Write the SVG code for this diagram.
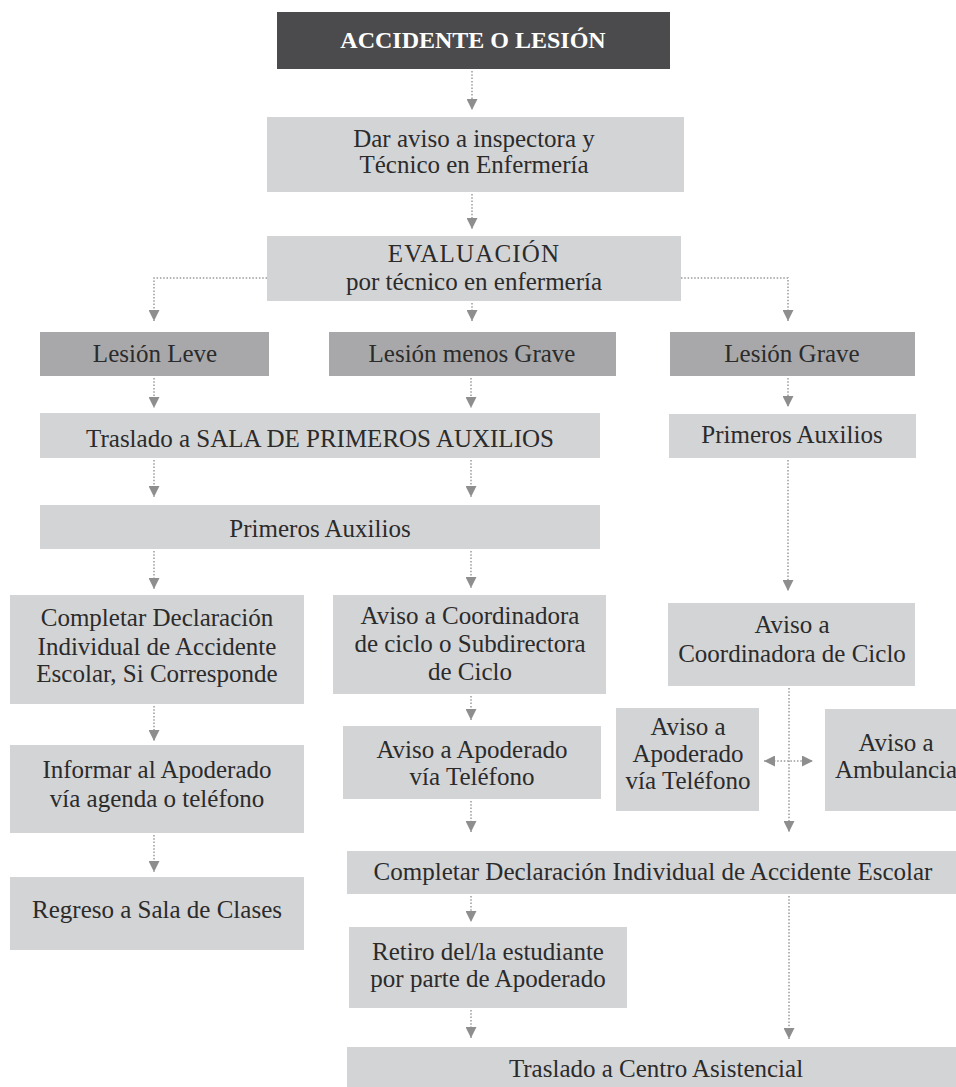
<svg xmlns="http://www.w3.org/2000/svg" width="956" height="1087" viewBox="0 0 956 1087">
<style>
.l{fill:#d3d4d6}
.m{fill:#a8a8aa}
.d{fill:#4b4b4d}
text{font-family:"Liberation Serif","Times New Roman",serif;font-size:25px;fill:#2b2b2b;text-anchor:middle}
.w{fill:#ffffff;font-weight:bold;font-size:24px}
.sp{letter-spacing:1.2px}
.c{fill:none;stroke:#9a9a9a;stroke-width:1.5;stroke-dasharray:1.5 1.8}
</style>
<defs>
<marker id="ah" viewBox="0 0 11 11" refX="11" refY="5.5" markerWidth="11" markerHeight="11" orient="auto" markerUnits="userSpaceOnUse">
<path d="M0,0 L11,5.5 L0,11 z" fill="#8e8e8e"/>
</marker>
<marker id="as" viewBox="0 0 11 11" refX="0" refY="5.5" markerWidth="11" markerHeight="11" orient="auto" markerUnits="userSpaceOnUse">
<path d="M11,0 L0,5.5 L11,11 z" fill="#8e8e8e"/>
</marker>
</defs>
<g id="connectors">
<path class="c" d="M472,71 V110" marker-end="url(#ah)"/>
<path class="c" d="M472,194 V229" marker-end="url(#ah)"/>
<path class="c" d="M472,303 V321" marker-end="url(#ah)"/>
<path class="c" d="M267,278 H154 V321" marker-end="url(#ah)"/>
<path class="c" d="M681,278 H788 V321" marker-end="url(#ah)"/>
<path class="c" d="M154,378 V408" marker-end="url(#ah)"/>
<path class="c" d="M471,378 V408" marker-end="url(#ah)"/>
<path class="c" d="M788,378 V407" marker-end="url(#ah)"/>
<path class="c" d="M154,460 V497" marker-end="url(#ah)"/>
<path class="c" d="M471,460 V497" marker-end="url(#ah)"/>
<path class="c" d="M154,551 V589" marker-end="url(#ah)"/>
<path class="c" d="M471,551 V588" marker-end="url(#ah)"/>
<path class="c" d="M788,460 V591" marker-end="url(#ah)"/>
<path class="c" d="M154,706 V741" marker-end="url(#ah)"/>
<path class="c" d="M154,835 V872" marker-end="url(#ah)"/>
<path class="c" d="M471,696 V720" marker-end="url(#ah)"/>
<path class="c" d="M471,801 V832" marker-end="url(#ah)"/>
<path class="c" d="M789,688 V832" marker-end="url(#ah)"/>
<path class="c" d="M764,761 H813" marker-start="url(#as)" marker-end="url(#ah)"/>
<path class="c" d="M471,896 V922" marker-end="url(#ah)"/>
<path class="c" d="M471,1010 V1038" marker-end="url(#ah)"/>
<path class="c" d="M789,896 V1039" marker-end="url(#ah)"/>
</g>
<g id="n1"><rect class="d" x="277" y="12" width="393" height="57"/><text class="w" x="473" y="48">ACCIDENTE O LESIÓN</text></g>
<g id="n2"><rect class="l" x="267" y="117" width="417" height="75"/><text x="474" y="147">Dar aviso a inspectora y</text><text x="474" y="173">Técnico en Enfermería</text></g>
<g id="n3"><rect class="l" x="267" y="236" width="414" height="65"/><text class="sp" x="474" y="262">EVALUACIÓN</text><text x="474" y="290">por técnico en enfermería</text></g>
<g id="n4"><rect class="m" x="40" y="332" width="229" height="44"/><text x="155" y="362">Lesión Leve</text></g>
<g id="n5"><rect class="m" x="329" y="332" width="287" height="44"/><text x="472" y="362">Lesión menos Grave</text></g>
<g id="n6"><rect class="m" x="670" y="332" width="245" height="44"/><text x="792" y="362">Lesión Grave</text></g>
<g id="n7"><rect class="l" x="40" y="413" width="560" height="45"/><text x="320" y="447">Traslado a SALA DE PRIMEROS AUXILIOS</text></g>
<g id="n8"><rect class="l" x="669" y="414" width="247" height="44"/><text x="792" y="443">Primeros Auxilios</text></g>
<g id="n9"><rect class="l" x="40" y="505" width="560" height="44"/><text x="320" y="537">Primeros Auxilios</text></g>
<g id="n10"><rect class="l" x="10" y="595" width="294" height="109"/><text x="157" y="626">Completar Declaración</text><text x="157" y="655">Individual de Accidente</text><text x="157" y="682">Escolar, Si Corresponde</text></g>
<g id="n11"><rect class="l" x="333" y="595" width="273" height="99"/><text x="470" y="624">Aviso a Coordinadora</text><text x="470" y="652">de ciclo o Subdirectora</text><text x="470" y="680">de Ciclo</text></g>
<g id="n12"><rect class="l" x="668" y="603" width="247" height="83"/><text x="792" y="633">Aviso a</text><text x="792" y="662">Coordinadora de Ciclo</text></g>
<g id="n13"><rect class="l" x="10" y="745" width="294" height="88"/><text x="157" y="778">Informar al Apoderado</text><text x="157" y="807">vía agenda o teléfono</text></g>
<g id="n14"><rect class="l" x="343" y="726" width="258" height="73"/><text x="472" y="758">Aviso a Apoderado</text><text x="472" y="785">vía Teléfono</text></g>
<g id="n15"><rect class="l" x="616" y="708" width="143" height="103"/><text x="688" y="735">Aviso a</text><text x="688" y="762">Apoderado</text><text x="688" y="789">vía Teléfono</text></g>
<g id="n16"><rect class="l" x="825" y="709" width="145" height="102"/><text x="896" y="751">Aviso a</text><text x="896" y="778">Ambulancia</text></g>
<g id="n17"><rect class="l" x="10" y="877" width="294" height="73"/><text x="157" y="918">Regreso a Sala de Clases</text></g>
<g id="n18"><rect class="l" x="347" y="851" width="612" height="43"/><text x="653" y="880">Completar Declaración Individual de Accidente Escolar</text></g>
<g id="n19"><rect class="l" x="349" y="927" width="278" height="81"/><text x="488" y="960">Retiro del/la estudiante</text><text x="488" y="987">por parte de Apoderado</text></g>
<g id="n20"><rect class="l" x="347" y="1047" width="618" height="45"/><text x="656" y="1077">Traslado a Centro Asistencial</text></g>
</svg>
